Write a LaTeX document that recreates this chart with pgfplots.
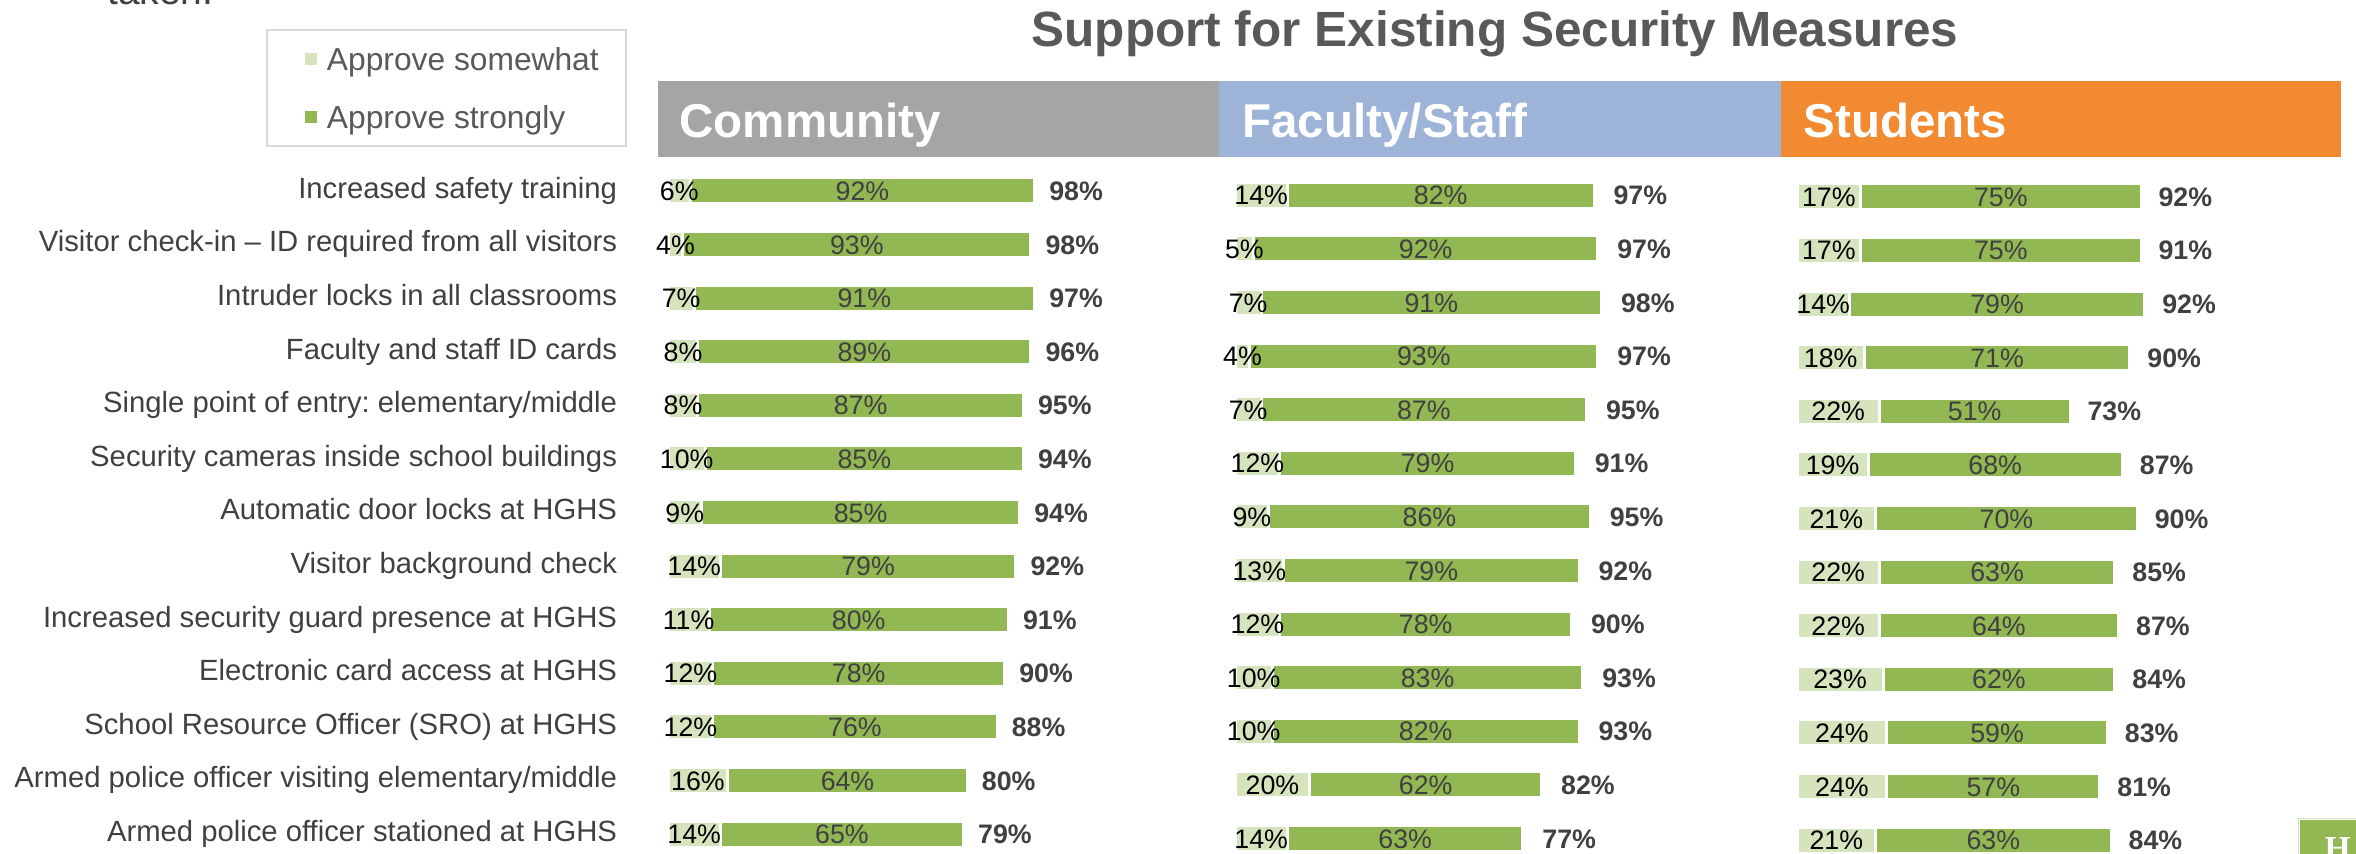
\documentclass[border=0pt]{standalone}
\usepackage{fontspec}
\setmainfont{Liberation Sans}
\newfontfamily\logofont{Liberation Serif}
\usepackage{pgfplots}
\pgfplotsset{compat=1.18}
\usepackage{pgfplotstable}

\definecolor{clight}{HTML}{D6E4BD}
\definecolor{cgreen}{HTML}{92B854}
\definecolor{cgray}{HTML}{A5A5A5}
\definecolor{cblue}{HTML}{9DB3D8}
\definecolor{corange}{HTML}{F18A31}
\definecolor{txt}{HTML}{404040}
\definecolor{ttl}{HTML}{595959}
\definecolor{lgd}{HTML}{D9D9D9}

\pgfplotstableread{
row some strong total
1 6 92 98
2 4 93 98
3 7 91 97
4 8 89 96
5 8 87 95
6 10 85 94
7 9 85 94
8 14 79 92
9 11 80 91
10 12 78 90
11 12 76 88
12 16 64 80
13 14 65 79
}\community

\pgfplotstableread{
row some strong total
1 14 82 97
2 5 92 97
3 7 91 98
4 4 93 97
5 7 87 95
6 12 79 91
7 9 86 95
8 13 79 92
9 12 78 90
10 10 83 93
11 10 82 93
12 20 62 82
13 14 63 77
}\faculty

\pgfplotstableread{
row some strong total
1 17 75 92
2 17 75 91
3 14 79 92
4 18 71 90
5 22 51 73
6 19 68 87
7 21 70 90
8 22 63 85
9 22 64 87
10 23 62 84
11 24 59 83
12 24 57 81
13 21 63 84
}\students

\pgfplotsset{
  panel/.style={scale only axis, width=149.6pt, height=278.72pt,
    xmin=0, xmax=100, ymin=0.5, ymax=13.5, y dir=reverse,
    clip=false, anchor=north west},
  barg/.style={xbar, bar shift=0pt, bar width=10.4pt, draw=white,
    line width=1.2pt, fill=cgreen, forget plot},
  barl/.style={xbar, bar shift=0pt, bar width=10.4pt, draw=white,
    line width=1.2pt, fill=clight, forget plot},
  lab/.style={draw=none, mark=none, forget plot,
    point meta=explicit symbolic,
    nodes near coords={\pgfplotspointmeta\%},
    nodes near coords style={font=\fontsize{10.7}{12}\selectfont,
      anchor=center, inner sep=0pt, text height=7.66pt, text depth=0pt}},
}

\newcommand{\panel}[2]{%
  \addplot[barg] table[x expr=\thisrow{some}+\thisrow{strong}, y=row] {#1};
  \addplot[barl] table[x=some, y=row] {#1};
  \addplot[lab, nodes near coords style={text=black}]
    table[x expr=\thisrow{some}/2, y=row, meta=some] {#1};
  \addplot[lab, nodes near coords style={text=txt}]
    table[x expr=\thisrow{some}+\thisrow{strong}/2, y=row, meta=strong] {#1};
  \addplot[lab, nodes near coords style={text=txt,
      font=\fontsize{10.7}{12}\selectfont\bfseries, anchor=west, xshift=#2}]
    table[x expr=\thisrow{some}+\thisrow{strong}, y=row, meta=total] {#1};
}

\begin{document}
\frenchspacing
\begin{tikzpicture}
\path[use as bounding box] (0pt,0pt) rectangle (942.4pt,-341.2pt);

% cut-off text at the top
\node[anchor=base west, inner sep=0pt, text=txt,
  font=\fontsize{15.6}{18}\selectfont] at (42.7pt,-1.6pt) {taken.};

% title
\node[anchor=base, inner sep=0pt, text=ttl,
  font=\fontsize{19.8}{23}\selectfont\bfseries] at (598pt,-18.64pt)
  {Support for Existing Security Measures};

% header bands
\fill[cgray] (263.2pt,-32.4pt) rectangle (487.6pt,-62.8pt);
\fill[cblue] (487.6pt,-32.4pt) rectangle (712.4pt,-62.8pt);
\fill[corange] (712.4pt,-32.4pt) rectangle (936.4pt,-62.8pt);
\node[anchor=base west, inner sep=0pt, text=white,
  font=\fontsize{19}{22}\selectfont\bfseries] at (271.6pt,-54.9pt) {Community};
\node[anchor=base west, inner sep=0pt, text=white,
  font=\fontsize{19}{22}\selectfont\bfseries] at (496.8pt,-54.9pt) {Faculty/Staff};
\node[anchor=base west, inner sep=0pt, text=white,
  font=\fontsize{19}{22}\selectfont\bfseries] at (721.2pt,-54.9pt) {Students};

% Community
\begin{axis}[panel, at={(267.2pt,-65.6pt)},
  axis line style={draw=none}, tick style={draw=none}, major tick length=0pt,
  xtick=\empty,
  ytick={1,2,3,4,5,6,7,8,9,10,11,12,13},
  yticklabels={Increased safety training,
    Visitor check-in -- ID required from all visitors,
    Intruder locks in all classrooms,
    Faculty and staff ID cards,
    Single point of entry: elementary/middle,
    Security cameras inside school buildings,
    Automatic door locks at HGHS,
    Visitor background check,
    Increased security guard presence at HGHS,
    Electronic card access at HGHS,
    School Resource Officer (SRO) at HGHS,
    Armed police officer visiting elementary/middle,
    Armed police officer stationed at HGHS},
  yticklabel style={font=\fontsize{11.7}{14}\selectfont\frenchspacing, text=txt, anchor=east,
    inner sep=0pt, xshift=-20.2pt, yshift=1.2pt, text height=8.4pt, text depth=0pt},
  legend style={at={(-1.07353,1.19374)}, anchor=north west, draw=lgd,
    line width=0.8pt, fill=white, inner sep=0pt, row sep=0pt,
    font=\fontsize{12.7}{15}\selectfont, text=ttl, cells={anchor=west},
    nodes={inner sep=0pt, text height=9.1pt, text depth=0pt, minimum height=23.2pt}},
  legend image code/.code={\path[draw=none, fill=none] (-15pt,-11.6pt) rectangle (8.8pt,11.6pt);
    \fill[#1] (0pt,-2.4pt) rectangle (4.8pt,2.4pt);},
]
\addlegendimage{fill=clight, draw=none}
\addlegendentry{Approve somewhat\hspace*{10.7pt}}
\addlegendimage{fill=cgreen, draw=none}
\addlegendentry{Approve strongly\hspace*{10.7pt}}
\panel{\community}{5.7pt}
\end{axis}

% Faculty/Staff
\begin{axis}[panel, at={(494pt,-67.4pt)}, hide axis]
\panel{\faculty}{7.6pt}
\end{axis}

% Students
\begin{axis}[panel, at={(718.8pt,-68pt)}, hide axis]
\panel{\students}{6.8pt}
\end{axis}

% cut-off logo at bottom right
\fill[clight] (919.1pt,-327.1pt) rectangle (960pt,-360pt);
\fill[white] (919.5pt,-327.5pt) rectangle (960pt,-360pt);
\fill[cgreen] (920.1pt,-328.1pt) rectangle (960pt,-360pt);
\node[anchor=base west, inner sep=0pt, text=white,
  font=\logofont\bfseries\fontsize{13.4}{14}\selectfont] at (929.6pt,-343.6pt) {H};
\end{tikzpicture}
\end{document}
